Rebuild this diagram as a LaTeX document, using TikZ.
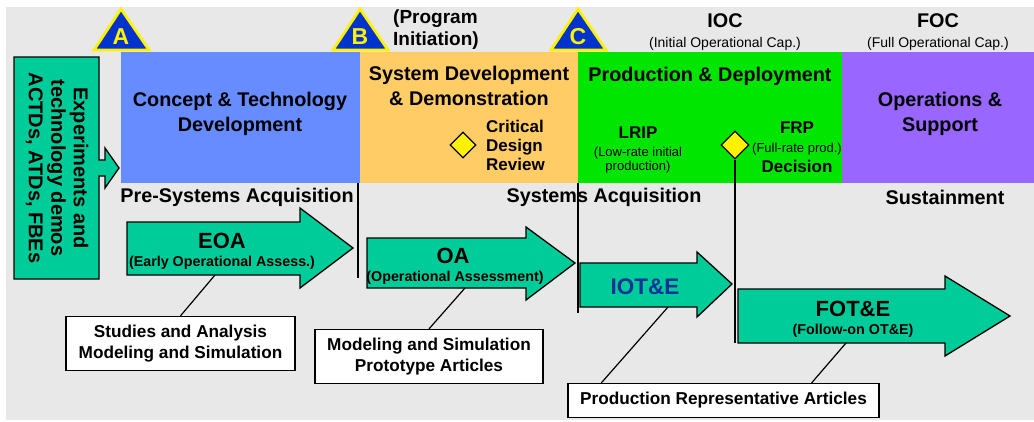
\documentclass[tikz,border=0pt]{standalone}
\usepackage{fontspec}
\setmainfont{Liberation Sans}
\usetikzlibrary{shapes.geometric}
\definecolor{bggrey}{RGB}{232,232,232}
\definecolor{conceptblue}{RGB}{102,140,255}
\definecolor{sddorange}{RGB}{255,204,102}
\definecolor{pdgreen}{RGB}{0,230,0}
\definecolor{ospurple}{RGB}{153,102,255}
\definecolor{testgreen}{RGB}{0,204,153}
\definecolor{msblue}{RGB}{0,51,204}
\definecolor{iotblue}{RGB}{0,51,153}
\begin{document}
\begin{tikzpicture}
	[x=1pt,y=-1pt,
	every node/.style={inner sep=0pt,align=center},
	phasetxt/.style={font=\fontsize{19.8}{25}\selectfont\bfseries},
	bigtxt/.style={font=\fontsize{22}{24}\selectfont\bfseries},
	subtxt/.style={font=\fontsize{14.3}{16}\selectfont\bfseries},
	midtxt/.style={font=\fontsize{17}{19}\selectfont\bfseries},
	doctxt/.style={font=\fontsize{17.2}{21.5}\selectfont\bfseries},
	capnote/.style={font=\fontsize{14}{16}\selectfont},
	smallnote/.style={font=\fontsize{13}{14}\selectfont},
	milestone/.style={fill=msblue,draw=yellow,line width=2.8pt},
	miletxt/.style={text=yellow,font=\fontsize{23}{24}\selectfont\bfseries},
	testarrow/.style={fill=testgreen,draw=black,line width=1.3pt},
	docbox/.style={draw=black,fill=white,line width=1.3pt,doctxt},
	decision/.style={diamond,draw=black,fill=yellow,line width=1.2pt},
	sepline/.style={draw=black,line width=1.5pt}]
	\useasboundingbox (0,0) rectangle (1034,421);
	\fill[bggrey] (6,7) rectangle (1034,420);
	% phases
	\fill[conceptblue] (121,52) rectangle (360,183);
	\fill[sddorange] (360,52) rectangle (578,183);
	\fill[pdgreen] (578,52) rectangle (842,183);
	\fill[ospurple] (842,52) rectangle (1034,183);
	\node[phasetxt] (ctd) at (240,114) {Concept \& Technology\\Development};
	\node[phasetxt] (sdd) at (469,86) {System Development\\\& Demonstration};
	\node[phasetxt] (pd) at (710,76.5) {Production \& Deployment};
	\node[phasetxt] (os) at (940,114) {Operations \&\\Support};
	\node[phasetxt] (presys) at (237,197.5) {Pre-Systems Acquisition};
	\node[phasetxt] (sysacq) at (604,197.5) {Systems Acquisition};
	\node[phasetxt] (sust) at (945,197.5) {Sustainment};
	% milestones
	\draw[milestone] (94,50) -- (121,9) -- (149,50) -- cycle;
	\draw[milestone] (333,50) -- (360,9) -- (388,50) -- cycle;
	\draw[milestone] (551,50) -- (578,9) -- (606,50) -- cycle;
	\node[miletxt] (msa) at (121,36.5) {A};
	\node[miletxt] (msb) at (360,36.5) {B};
	\node[miletxt] (msc) at (578,36.5) {C};
	\node[font=\fontsize{19}{22}\selectfont\bfseries,anchor=west,align=left] (pi) at (393,30) {(Program\\Initiation)};
	\node[phasetxt] (ioc) at (725,21) {IOC};
	\node[capnote] (iocnote) at (725,43.5) {(Initial Operational Cap.)};
	\node[phasetxt] (foc) at (938,21) {FOC};
	\node[capnote] (focnote) at (938,43.5) {(Full Operational Cap.)};
	% reviews and decisions
	\node[decision,minimum size=26pt] (cdr) at (463,145) {};
	\node[midtxt,anchor=west,align=left] (cdrtxt) at (486,145) {Critical\\Design\\Review};
	\node[midtxt] (lrip) at (638,133) {LRIP};
	\node[smallnote] (lripnote) at (638,160) {(Low-rate initial\\production)};
	\node[decision,minimum size=28pt] (frp) at (735,145) {};
	\node[midtxt] (frptxt) at (797,128) {FRP};
	\node[smallnote] (frpnote) at (797,149.5) {(Full-rate prod.)};
	\node[midtxt] (frpdec) at (797,166) {Decision};
	% experiments
	\draw[testarrow] (14,57) -- (99,57) -- (99,160) -- (105,160) -- (105,148) -- (119,168)
		-- (105,188) -- (105,176) -- (99,176) -- (99,279) -- (14,279) -- cycle;
	\node[font=\fontsize{20}{22.5}\selectfont\bfseries,rotate=-90] (exp) at (57,168) {Experiments and\\technology demos\\ACTDs, ATDs, FBEs};
	% test arrows
	\draw[testarrow] (127,222) -- (300,222) -- (300,208) -- (353,248) -- (300,288) -- (300,275) -- (127,275) -- cycle;
	\draw[testarrow] (367,238) -- (526,238) -- (526,227) -- (575,263) -- (526,300) -- (526,288) -- (367,288) -- cycle;
	\draw[testarrow] (580,263) -- (697,263) -- (697,252) -- (732,284) -- (697,317) -- (697,307) -- (580,307) -- cycle;
	\draw[testarrow] (738,289) -- (945,289) -- (945,276) -- (1010,316) -- (945,356) -- (945,343) -- (738,343) -- cycle;
	\node[bigtxt] (eoa) at (222,241) {EOA};
	\node[subtxt] (eoanote) at (222,263) {(Early Operational Assess.)};
	\node[bigtxt] (oa) at (453,256) {OA};
	\node[subtxt] (oanote) at (455,278) {(Operational Assessment)};
	\node[bigtxt,font=\fontsize{22.5}{24}\selectfont\bfseries,text=iotblue] (iote) at (645,287) {IOT\&E};
	\node[bigtxt] (fote) at (853,309) {FOT\&E};
	\node[subtxt] (fotenote) at (853,331) {(Follow-on OT\&E)};
	% separators
	\coordinate (bend) at (358,278);
	\coordinate (cend) at (578,313);
	\coordinate (frpend) at (735,343);
	\draw[sepline] (358,183) -- (bend);
	\draw[sepline] (578,183) -- (cend);
	\draw[sepline] (frp.south) -- (frpend);
	% documents
	\node[docbox,minimum width=229pt,minimum height=54pt] (studies) at (180.5,343.5) {Studies and Analysis\\Modeling and Simulation};
	\node[docbox,minimum width=228pt,minimum height=54pt] (model) at (429,356.5) {Modeling and Simulation\\Prototype Articles};
	\node[docbox,minimum width=311pt,minimum height=34pt] (prodrep) at (723.5,400.5) {Production Representative Articles};
	\coordinate (eoafoot) at (215,275);
	\coordinate (oafoot) at (465,288);
	\coordinate (iotefoot) at (668,307);
	\coordinate (fotefoot) at (846,343);
	\draw[line width=1.2pt] (eoafoot) -- (studies.north);
	\draw[line width=1.2pt] (oafoot) -- (model.north);
	\draw[line width=1.2pt] (iotefoot) -- ([xshift=34pt]prodrep.north west);
	\draw[line width=1.2pt] (fotefoot) -- ([xshift=-68pt]prodrep.north east);
\end{tikzpicture}
\end{document}
